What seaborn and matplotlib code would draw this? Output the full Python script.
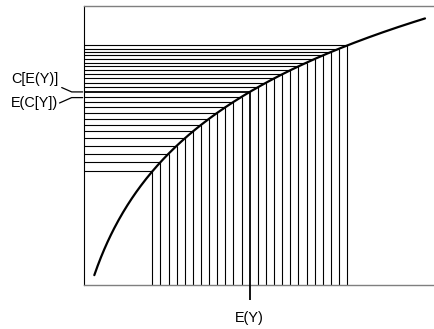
import numpy as np
import pandas as pd
import matplotlib
matplotlib.use("Agg")
import matplotlib.pyplot as plt
import seaborn as sns

# Outcome values Y sampled along the horizontal axis
y_samples = [8.4, 9.4, 10.4, 11.4, 12.4, 13.4, 14.4, 15.4, 16.4, 17.4, 18.4, 19.4,
             20.4, 21.4, 22.4, 23.4, 24.4, 25.4, 26.4, 27.4, 28.4, 29.4, 30.4, 31.4, 32.4]

# Concave function C(Y) = a + b * ln(Y + c)
curve_a = -6.14
curve_b = 4.119
curve_c = 3.569
curve_range = [1.27, 41.97]

label_ce = "C[E(Y)]"
label_ec = "E(C[Y])"
label_ey = "E(Y)"


def C(y):
    return curve_a + curve_b * np.log(np.asarray(y) + curve_c)


sns.set_style("white")
plt.rcParams["font.family"] = ["Liberation Sans", "DejaVu Sans"]

W, H = 434, 329
fig = plt.figure(figsize=(W / 100, H / 100), dpi=100)
ax = fig.add_axes([84 / W, 44 / H, 1 - 84 / W, 279 / H])

xmax = 350 / 8.125
ymax = 279 / 27.8
ax.set_xlim(0, xmax)
ax.set_ylim(0, ymax)

ys = np.array(y_samples)
cs = C(ys)
ey = float(np.mean(ys))
c_ey = float(C(ey))
e_cy = float(np.mean(cs))

# thin vertical and horizontal lines for each sample
thin = 0.8
for y, c in zip(ys, cs):
    if np.isclose(y, ey):
        continue
    ax.vlines(y, 0, c, color="black", lw=thin)
    ax.hlines(c, 0, y, color="black", lw=thin)

# mean outcome and its function value
ax.vlines(ey, -15 / 27.8, c_ey, color="black", lw=1.3, clip_on=False, zorder=3)
ax.hlines(c_ey, 0, ey, color="black", lw=1.3, zorder=3)

# the concave curve
grid = np.linspace(curve_range[0], curve_range[1], 300)
curve_df = pd.DataFrame({"Y": grid, "C": C(grid)})
sns.lineplot(data=curve_df, x="Y", y="C", ax=ax, color="black", lw=1.6,
             estimator=None, sort=False, zorder=4)

ax.set_xlabel("")
ax.set_ylabel("")
ax.set_xticks([])
ax.set_yticks([])

for side in ["top", "bottom"]:
    ax.spines[side].set_color("#7f7f7f")
    ax.spines[side].set_linewidth(1.0)
ax.spines["left"].set_color("black")
ax.spines["left"].set_linewidth(0.8)
ax.spines["right"].set_visible(False)


def px_x(p):
    return (p - 84) / 8.125


def px_dy(p):
    return p / 27.8


# leader lines to the labels on the left
ax.plot([px_x(61.7), px_x(71.7), px_x(82.7)],
        [c_ey + px_dy(4.4), c_ey, c_ey],
        color="black", lw=0.9, clip_on=False)
ax.plot([px_x(59.5), px_x(71.7), px_x(82.7)],
        [e_cy - px_dy(5.4), e_cy, e_cy],
        color="black", lw=0.9, clip_on=False)

fs = 10.4
ax.text(px_x(59), c_ey + px_dy(12.5), label_ce, ha="right", va="center",
        fontsize=fs, color="black", clip_on=False)
ax.text(px_x(58), e_cy - px_dy(5.5), label_ec, ha="right", va="center",
        fontsize=fs, color="black", clip_on=False)
ax.text(ey, -px_dy(33), label_ey, ha="center", va="center",
        fontsize=fs, color="black", clip_on=False)

fig.savefig("out.png", dpi=100)
